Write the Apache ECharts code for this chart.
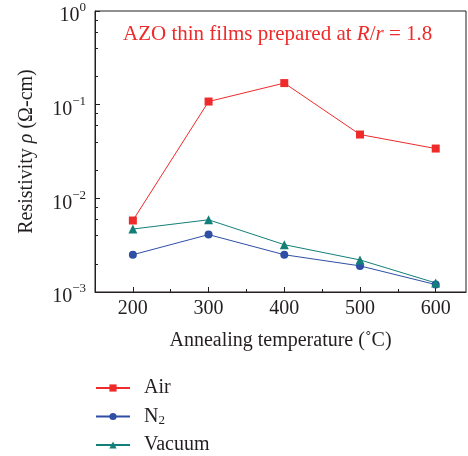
<!DOCTYPE html>
<html>
<head>
<meta charset="utf-8">
<script src="https://cdn.jsdelivr.net/npm/echarts@6/dist/echarts.min.js"></script>
<style>html,body{margin:0;padding:0;background:#fff}#c{width:468px;height:456px}</style>
</head>
<body>
<div id="c"></div>
<script>
const temps = [200, 300, 400, 500, 600];
const air = [0.0058, 0.108, 0.17, 0.048, 0.034];
const n2 = [0.0025, 0.0041, 0.0025, 0.0019, 0.0012];
const vacuum = [0.0047, 0.0059, 0.0032, 0.0022, 0.00125];
const xMajor = [200, 300, 400, 500, 600];
const xMinor = [250, 350, 450, 550];
const yMinor = [0.002,0.004,0.006,0.008,0.02,0.04,0.06,0.08,0.2,0.4,0.6,0.8];

const FONT = '"Liberation Serif", "DejaVu Serif", serif';
const INK = '#231f20';
const RED = '#ee2a2a', BLUE = '#2f4fa6', TEAL = '#128079';

const chart = echarts.init(document.getElementById('c'), null, {renderer: 'canvas'});
const pair = (ys) => temps.map((t, i) => [t, ys[i]]);

chart.setOption({
  animation: false,
  backgroundColor: '#fff',
  title: {
    text: '{n|AZO thin films prepared at }{i|R}{n|/}{i|r}{n| = 1.8}',
    left: 118, top: 19,
    textStyle: {
      fontWeight: 'normal',
      rich: {
        n: {fontFamily: FONT, fontSize: 21, color: RED, fontWeight: 'normal'},
        i: {fontFamily: FONT, fontSize: 21, color: RED, fontStyle: 'italic', fontWeight: 'normal'}
      }
    }
  },
  grid: {left: 95, top: 11, right: 2, bottom: 164, show: true, borderColor: INK, borderWidth: 1, backgroundColor: 'transparent'},
  legend: {
    orient: 'vertical', left: 95, top: 378, height: 78, itemWidth: 34, itemHeight: 9, itemGap: 8,
    padding: 0,
    data: ['Air', 'N2', 'Vacuum'],
    formatter: (name) => name === 'N2' ? '{n|N}{s|2}' : '{n|' + name + '}',
    textStyle: {
      fontFamily: FONT, fontSize: 20, color: INK, padding: [0, 0, 0, 9],
      rich: {
        n: {fontFamily: FONT, fontSize: 20, color: INK, lineHeight: 18},
        s: {fontFamily: FONT, fontSize: 13, color: INK, padding: [8, 0, 0, 0], lineHeight: 18}
      }
    }
  },
  xAxis: [{
    type: 'value', min: 150, max: 640, position: 'bottom',
    name: 'Annealing temperature (˚C)', nameLocation: 'middle', nameGap: 39,
    nameTextStyle: {fontFamily: FONT, fontSize: 20, color: INK},
    axisLine: {lineStyle: {color: INK, width: 1}},
    axisTick: {inside: true, length: 5, customValues: xMajor, lineStyle: {color: INK}},
    axisLabel: {customValues: xMajor, fontFamily: FONT, fontSize: 20, color: INK, margin: 7},
    splitLine: {show: false}
  }, {
    type: 'value', min: 150, max: 640, position: 'bottom', gridIndex: 0,
    axisLine: {show: false},
    axisTick: {inside: true, length: 3, customValues: xMinor, lineStyle: {color: INK}},
    axisLabel: {show: false},
    splitLine: {show: false}
  }],
  yAxis: [{
    type: 'log', logBase: 10, min: 0.001, max: 1, position: 'left',
    name: '{n|Resistivity }{i|ρ}{n| (Ω-cm)}', nameLocation: 'middle', nameGap: 58, nameRotate: 90,
    nameTextStyle: {
      rich: {
        n: {fontFamily: FONT, fontSize: 20, color: INK},
        i: {fontFamily: FONT, fontSize: 20, color: INK, fontStyle: 'italic'}
      }
    },
    axisLine: {lineStyle: {color: INK, width: 1}},
    axisTick: {inside: true, length: 5, lineStyle: {color: INK}},
    axisLabel: {
      margin: 9,
      formatter: (v) => {
        const e = Math.round(Math.log10(v));
        return '{b|10}{s|' + (e < 0 ? '−' + (-e) : e) + '}';
      },
      rich: {
        b: {fontFamily: FONT, fontSize: 20, color: INK, padding: [10, 0, 0, 0]},
        s: {fontFamily: FONT, fontSize: 13, color: INK, padding: [0, 0, 6, 0]}
      }
    },
    splitLine: {show: false}
  }, {
    type: 'log', logBase: 10, min: 0.001, max: 1, position: 'left', gridIndex: 0,
    axisLine: {show: false},
    axisTick: {inside: true, length: 3, customValues: yMinor, lineStyle: {color: INK}},
    axisLabel: {show: false},
    splitLine: {show: false}
  }],
  series: [
    {name: 'Air', type: 'line', data: pair(air), symbol: 'rect', symbolSize: 8,
      itemStyle: {color: RED}, lineStyle: {color: RED, width: 1}},
    {name: 'N2', type: 'line', data: pair(n2), symbol: 'circle', symbolSize: 8,
      itemStyle: {color: BLUE}, lineStyle: {color: BLUE, width: 1}},
    {name: 'Vacuum', type: 'line', data: pair(vacuum), symbol: 'triangle', symbolSize: 9,
      itemStyle: {color: TEAL}, lineStyle: {color: TEAL, width: 1}}
  ]
});
</script>
</body>
</html>
